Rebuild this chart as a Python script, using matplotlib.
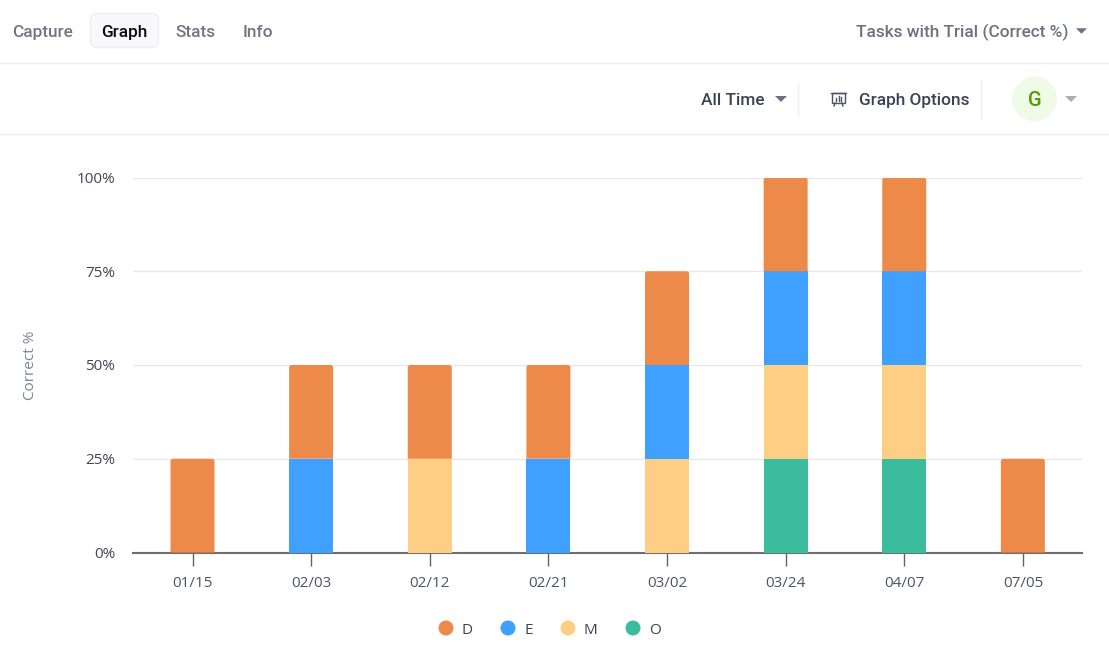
import matplotlib
matplotlib.use("Agg")
import matplotlib.pyplot as plt
from matplotlib.patches import FancyBboxPatch, Circle, Polygon, Rectangle, PathPatch
from matplotlib.path import Path

W, H = 1109, 659
PX = 0.72  # points per pixel at 100 dpi

dates = ["01/15", "02/03", "02/12", "02/21", "03/02", "03/24", "04/07", "07/05"]
series_names = ["O", "M", "E", "D"]
o_values = [0, 0, 0, 0, 0, 25, 25, 0]
m_values = [0, 0, 25, 0, 25, 25, 25, 0]
e_values = [0, 25, 0, 25, 25, 25, 25, 0]
d_values = [25, 25, 25, 25, 25, 25, 25, 25]
series_colors = {"D": "#ED8A4A", "E": "#40A0FF", "M": "#FECE85", "O": "#3CBC9E"}
y_ticks = [0, 25, 50, 75, 100]
legend_order = ["D", "E", "M", "O"]
legend_x = [446, 508, 568, 633]
legend_text_x = [461.5, 524.5, 583.5, 649.5]

fig = plt.figure(figsize=(W / 100, H / 100), dpi=100, facecolor="white")

# Page furniture lives on an overlay addressed in pixels
ui = fig.add_axes([0, 0, 1, 1], zorder=0)
ui.set_xlim(0, W)
ui.set_ylim(H, 0)
ui.axis("off")

ui_font = "Roboto"
chart_font = "Open Sans"
CHART_PX = 15.2


def label(x, y, s, color, size=17.3, ha="left", weight="medium"):
    ui.text(x, y, s, color=color, fontsize=size * PX, family=ui_font, weight=weight,
            ha=ha, va="center_baseline")


def caret(cx, cy, color, half=6, tall=6):
    ui.add_patch(Polygon([(cx - half, cy - tall / 2), (cx + half, cy - tall / 2), (cx, cy + tall / 2)],
                         closed=True, facecolor=color, edgecolor="none"))


ui.plot([0, W], [63, 63], color="#EEEEF3", lw=1)
ui.plot([0, W], [134, 134], color="#EEEEF3", lw=1)
ui.plot([798, 798], [83, 115], color="#EEEEF3", lw=1)
ui.plot([981, 981], [80, 118], color="#EEEEF3", lw=1)

ui.add_patch(FancyBboxPatch((90.5, 13.5), 68, 34, boxstyle="round,pad=0,rounding_size=7",
                            facecolor="#F9F9FC", edgecolor="#EEEEF3", lw=1))
label(12.5, 31, "Capture", "#6F7785")
label(101.5, 31, "Graph", "#0B0B12")
label(175, 31, "Stats", "#6F7785")
label(243, 31, "Info", "#6F7785")
label(855.5, 31, "Tasks with Trial (Correct %)", "#6B7280")
caret(1081.5, 31, "#6B7280", half=5.5, tall=5.5)

label(701, 99, "All Time", "#3A4256")
caret(781, 99, "#6B7280", half=6, tall=6)
label(859, 99, "Graph Options", "#3A4256")

# Presentation-board icon beside the options label
ui.add_patch(Rectangle((832, 93), 13, 10, facecolor="none", edgecolor="#4B5563", lw=1))
ui.plot([831, 846], [92.5, 92.5], color="#4B5563", lw=1)
ui.plot([835, 834], [103, 106], color="#4B5563", lw=1)
ui.plot([842, 843], [103, 106], color="#4B5563", lw=1)
for bx, top_y in [(836, 98), (838.5, 96), (841, 97)]:
    ui.plot([bx, bx], [100.5, top_y], color="#4B5563", lw=1)

ui.add_patch(Circle((1034.5, 99), 22.5, facecolor="#EFFBE6", edgecolor="none"))
label(1034.5, 99, "G", "#529B03", size=20, ha="center")
caret(1071, 99, "#A9AEBB", half=6, tall=6)

# Stacked bar chart
left, right, top, bottom = 133.2, 1082.2, 177.5, 552.5
ax = fig.add_axes([left / W, 1 - bottom / H, (right - left) / W, (bottom - top) / H], zorder=1)
ax.patch.set_alpha(0)
ax.set_xlim(-0.5, len(dates) - 0.5)
ax.set_ylim(0, 100)
positions = list(range(len(dates)))
bar_width = 44 / ((right - left) / len(dates))

columns = {"O": o_values, "M": m_values, "E": e_values, "D": d_values}
running = [0] * len(dates)
rx = 2.5 / ((right - left) / len(dates))
ry = 2.5 / ((bottom - top) / 100)
for name in series_names:
    for i, val in enumerate(columns[name]):
        if val == 0:
            continue
        x0, x1 = i - bar_width / 2, i + bar_width / 2
        y0, y1 = running[i], running[i] + val
        if name == "D":
            # the top segment of each stack has softened upper corners
            verts = [(x0, y0), (x0, y1 - ry), (x0, y1), (x0 + rx, y1), (x1 - rx, y1),
                     (x1, y1), (x1, y1 - ry), (x1, y0), (x0, y0)]
            codes = [Path.MOVETO, Path.LINETO, Path.CURVE3, Path.CURVE3, Path.LINETO,
                     Path.CURVE3, Path.CURVE3, Path.LINETO, Path.CLOSEPOLY]
            ax.add_patch(PathPatch(Path(verts, codes), facecolor=series_colors[name],
                                   edgecolor="none", zorder=3))
        else:
            ax.bar(i, val, bottom=y0, width=bar_width, color=series_colors[name], zorder=3, linewidth=0)
        running[i] = y1

ax.set_yticks(y_ticks)
ax.set_yticklabels([f"{v}%" for v in y_ticks], family=chart_font, fontsize=CHART_PX * PX, color="#3F4654")
ax.set_xticks(positions)
ax.set_xticklabels(dates, family=chart_font, fontsize=CHART_PX * PX, color="#4B5563")
ax.tick_params(axis="y", length=0, pad=13)
ax.tick_params(axis="x", length=9, width=1, color="#5F6368", pad=8)
ax.grid(axis="y", color="#E8E8EC", lw=1, zorder=0)
for side in ("top", "right", "left"):
    ax.spines[side].set_visible(False)
ax.spines["bottom"].set_color("#6E6E6E")
ax.spines["bottom"].set_linewidth(1.5)
ax.set_axisbelow(True)

ui.text(30.5, 365, "Correct %", rotation=90, ha="center", va="center",
        family=chart_font, fontsize=CHART_PX * PX, color="#7C8494")

# Legend row below the plot
for name, cx, tx in zip(legend_order, legend_x, legend_text_x):
    ui.add_patch(Circle((cx, 628), 7.5, facecolor=series_colors[name], edgecolor="none"))
    ui.text(tx, 628, name, family=chart_font, fontsize=CHART_PX * PX, color="#3A4256",
            ha="left", va="center_baseline")

fig.savefig("out.png", dpi=100, facecolor="white")
